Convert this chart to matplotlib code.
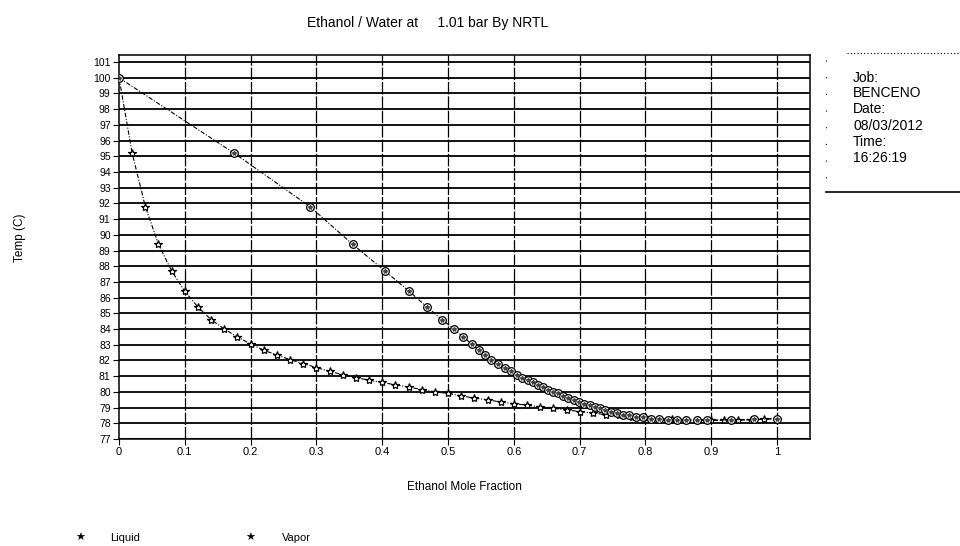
import matplotlib
matplotlib.use('Agg')
import matplotlib.pyplot as plt

plt.rcParams['font.family'] = ['Liberation Sans', 'DejaVu Sans']

# liquid composition (x) and bubble temperatures
x_liq = [0.00, 0.02, 0.04, 0.06, 0.08, 0.10, 0.12, 0.14, 0.16, 0.18,
         0.20, 0.22, 0.24, 0.26, 0.28, 0.30, 0.32, 0.34, 0.36, 0.38,
         0.40, 0.42, 0.44, 0.46, 0.48, 0.50, 0.52, 0.54, 0.56, 0.58,
         0.60, 0.62, 0.64, 0.66, 0.68, 0.70, 0.72, 0.74, 0.76, 0.78,
         0.80, 0.82, 0.84, 0.86, 0.88, 0.90, 0.92, 0.94, 0.96, 0.98, 1.00]
temp = [100.0, 95.2, 91.8, 89.4, 87.7, 86.4, 85.4, 84.6, 84.0, 83.5,
        83.05, 82.65, 82.35, 82.05, 81.8, 81.55, 81.3, 81.1, 80.9, 80.75,
        80.6, 80.45, 80.3, 80.15, 80.0, 79.9, 79.75, 79.6, 79.5, 79.35,
        79.25, 79.15, 79.05, 78.95, 78.85, 78.75, 78.65, 78.55, 78.5, 78.42,
        78.37, 78.3, 78.25, 78.22, 78.2, 78.18, 78.18, 78.2, 78.22, 78.25, 78.3]
# vapor composition (y) in equilibrium at the same temperatures
y_vap = [0.000, 0.175, 0.290, 0.355, 0.404, 0.441, 0.468, 0.491, 0.509, 0.523,
         0.536, 0.547, 0.556, 0.566, 0.576, 0.586, 0.596, 0.605, 0.613, 0.621,
         0.629, 0.636, 0.644, 0.652, 0.660, 0.667, 0.675, 0.683, 0.691, 0.699,
         0.707, 0.715, 0.723, 0.731, 0.739, 0.748, 0.757, 0.766, 0.775, 0.785,
         0.796, 0.808, 0.820, 0.834, 0.848, 0.862, 0.878, 0.893, 0.930, 0.965, 1.000]

y_ticks = list(range(77, 102))
x_ticks = [0, 0.1, 0.2, 0.3, 0.4, 0.5, 0.6, 0.7, 0.8, 0.9, 1.0]
x_labels = ['0', '0.1', '0.2', '0.3', '0.4', '0.5', '0.6', '0.7', '0.8', '0.9', '1']
info = ['Job:', 'BENCENO', 'Date:', '08/03/2012', 'Time:', '16:26:19']

fig = plt.figure(figsize=(9.6, 5.46), dpi=100)
ax = fig.add_axes([119 / 960, 107 / 546, 691 / 960, 384 / 546])

for t in y_ticks:
    ax.axhline(t, color='black', lw=1.3, zorder=1)
for xv in x_ticks[1:]:
    ax.axvline(xv, color='black', lw=0.9, ls=(0, (10, 1.5)), zorder=1)

dash = (0, (4, 1.5, 1, 1.5))
ax.plot(x_liq, temp, color='black', lw=0.8, ls=dash, marker='*', ms=6,
        mfc='white', mec='black', mew=0.9, zorder=3)
ax.plot(y_vap, temp, color='black', lw=0.8, ls=dash, marker='o', ms=5.5,
        mfc='white', mec='black', mew=0.9, zorder=3)
ax.plot(y_vap, temp, ls='none', marker='*', ms=3, color='#444444', zorder=4)

ax.set_xlim(0, 1.05)
ax.set_ylim(77, 101.45)
ax.set_yticks(y_ticks)
ax.set_yticklabels([str(t) for t in y_ticks], fontsize=7.5)
ax.set_xticks(x_ticks)
ax.set_xticklabels(x_labels, fontsize=8)
ax.tick_params(length=4, width=0.8, pad=2)
for s in ax.spines.values():
    s.set_linewidth(1.1)

fig.text(428 / 960, 1 - 23 / 546, 'Ethanol / Water at     1.01 bar By NRTL',
         ha='center', va='center', fontsize=10)
fig.text(464 / 960, 1 - 487 / 546, 'Ethanol Mole Fraction',
         ha='center', va='center', fontsize=8.5)
fig.text(20 / 960, 1 - 238 / 546, 'Temp (C)', rotation=90,
         ha='center', va='center', fontsize=8.5)

ys = [78, 93, 109, 126, 142, 158]
for txt, yy in zip(info, ys):
    fig.text(853 / 960, 1 - yy / 546, txt, ha='left', va='center', fontsize=10)
fig.lines.append(plt.Line2D([847 / 960, 1], [1 - 53 / 546] * 2, transform=fig.transFigure,
                            color='black', lw=0.8, ls=(0, (1, 2))))
fig.lines.append(plt.Line2D([826 / 960] * 2, [1 - 60 / 546, 1 - 188 / 546],
                            transform=fig.transFigure, color='black', lw=0.8, ls=(0, (1, 14))))
fig.lines.append(plt.Line2D([826 / 960, 1], [1 - 192 / 546] * 2, transform=fig.transFigure,
                            color='black', lw=1.2))

# legend row at the bottom
fig.text(80 / 960, 1 - 538 / 546, '\u2605', ha='center', va='center', fontsize=8,
         family=['DejaVu Sans'])
fig.text(110 / 960, 1 - 538 / 546, 'Liquid', ha='left', va='center', fontsize=8)
fig.text(250 / 960, 1 - 538 / 546, '\u2605', ha='center', va='center', fontsize=8,
         family=['DejaVu Sans'])
fig.text(282 / 960, 1 - 538 / 546, 'Vapor', ha='left', va='center', fontsize=8)

fig.savefig('out.png', dpi=100)
